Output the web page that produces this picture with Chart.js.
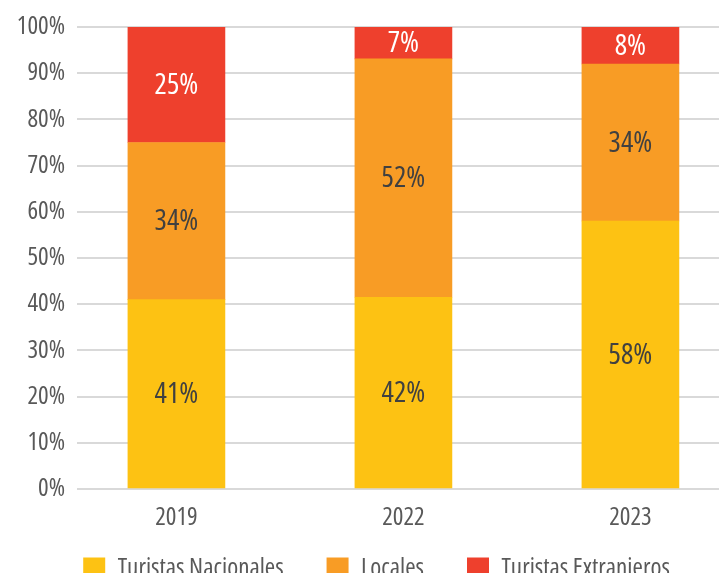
<!DOCTYPE html>
<html>
<head>
<meta charset="utf-8">
<script src="https://cdn.jsdelivr.net/npm/chart.js@4.4.0/dist/chart.umd.min.js"></script>
<style>
  html, body { margin: 0; padding: 0; background: #fff; overflow: hidden; }
  #wrap { width: 719px; height: 579px; overflow: hidden; }
</style>
</head>
<body>
<div id="wrap">
  <canvas id="grafico" width="753" height="600"></canvas>
</div>
<script>
// datos del gráfico (participación en %)
const anios = ['2019', '2022', '2023'];
const turistasNacionales = [41, 41.5, 58];
const locales = [34, 51.6, 34];
const turistasExtranjeros = [25, 6.9, 8];
const ticksY = [0, 10, 20, 30, 40, 50, 60, 70, 80, 90, 100];

// Open Sans en ancho condensado (va en "weight" para que Chart.js lo meta en el font string)
const FUENTE = "'Open Sans', sans-serif";
const ANCHO = 'condensed';

// convierte una serie en puntos {x: índice, y: valor}
function puntos(serie) {
    return serie.map(function (v, i) {
        return { x: i, y: v };
    });
}

// etiquetas de valor centradas en cada segmento
const etiquetasValor = {
    id: 'etiquetasValor',
    afterDatasetsDraw(chart) {
        const ctx = chart.ctx;
        ctx.save();
        ctx.font = ANCHO + ' 29px ' + FUENTE;
        ctx.textAlign = 'center';
        ctx.textBaseline = 'middle';
        chart.data.datasets.forEach(function (ds, di) {
            const meta = chart.getDatasetMeta(di);
            meta.data.forEach(function (bar, i) {
                const valor = ds.data[i].y;
                ctx.fillStyle = ds.colorEtiqueta;
                ctx.fillText(Math.round(valor) + '%', bar.x, (bar.y + bar.base) / 2 + 1);
            });
        });
        ctx.restore();
    }
};

// la leyenda queda pegada a los años (el padding también separa los items)
const subirLeyenda = {
    id: 'subirLeyenda',
    afterLayout(chart) {
        const dy = 27;
        chart.legend.top -= dy;
        chart.legend.bottom -= dy;
    }
};

const ctx = document.getElementById('grafico').getContext('2d');

const chart = new Chart(ctx, {
    type: 'bar',
    data: {
        datasets: [{
            label: 'Turistas Nacionales',
            data: puntos(turistasNacionales),
            backgroundColor: '#fdc213',
            colorEtiqueta: '#404040',
            barThickness: 97
        }, {
            label: 'Locales',
            data: puntos(locales),
            backgroundColor: '#f89c25',
            colorEtiqueta: '#404040',
            barThickness: 97
        }, {
            label: 'Turistas Extranjeros',
            data: puntos(turistasExtranjeros),
            backgroundColor: '#ee402d',
            colorEtiqueta: '#ffffff',
            barThickness: 97
        }]
    },
    options: {
        responsive: false,
        animation: false,
        devicePixelRatio: 1,
        layout: {
            padding: { top: 24, left: 0, right: 0, bottom: 0 }
        },
        plugins: {
            tooltip: { enabled: false },
            legend: {
                position: 'bottom',
                maxHeight: 60,
                labels: {
                    boxWidth: 22,
                    boxHeight: 22,
                    padding: 43,
                    color: '#595959',
                    font: { family: FUENTE, size: 25, weight: ANCHO }
                }
            }
        },
        scales: {
            x: {
                type: 'linear',
                stacked: true,
                offset: false,
                min: -0.438,
                max: 2.54,
                grid: { display: false },
                border: { display: false },
                afterBuildTicks(scale) {
                    scale.ticks = anios.map(function (a, i) { return { value: i }; });
                },
                afterFit(scale) {
                    scale.height = 51;
                },
                ticks: {
                    padding: 6,
                    autoSkip: false,
                    maxRotation: 0,
                    color: '#595959',
                    font: { family: FUENTE, size: 25, weight: ANCHO },
                    callback: function (v) {
                        return anios[v];
                    }
                }
            },
            y: {
                stacked: true,
                min: 0,
                max: 100,
                grid: { color: '#d9d9d9', lineWidth: 2, drawTicks: false },
                border: { display: false },
                afterBuildTicks(scale) {
                    scale.ticks = ticksY.map(function (v) { return { value: v }; });
                },
                afterFit(scale) {
                    scale.width = 77;
                },
                ticks: {
                    padding: 12,
                    color: '#595959',
                    font: { family: FUENTE, size: 25, weight: ANCHO },
                    callback: function (v) {
                        return v + '%';
                    }
                }
            }
        }
    },
    plugins: [etiquetasValor, subirLeyenda]
});
</script>
</body>
</html>
